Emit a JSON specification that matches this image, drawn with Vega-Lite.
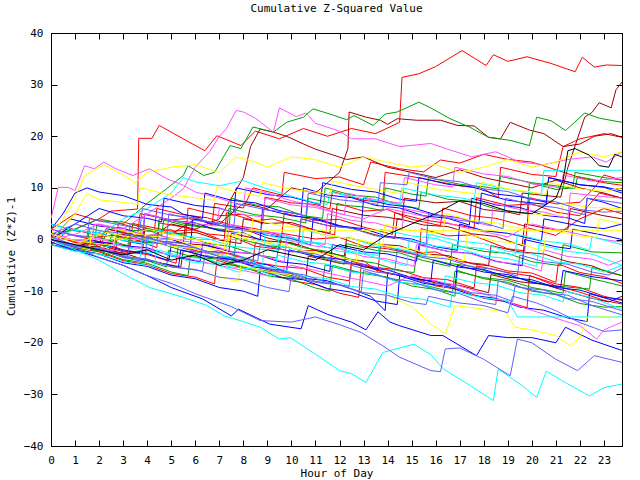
{
"$schema": "https://vega.github.io/schema/vega-lite/v6.json",
"width": 571, "height": 413,
"autosize": "none",
"padding": {"left": 51, "top": 33, "right": 18, "bottom": 34},
"background": "white",
"title": {"text": "Cumulative Z-Squared Value", "font": "DejaVu Sans Mono", "fontSize": 11, "fontWeight": "normal", "color": "black", "anchor": "middle", "offset": 13},
"config": {
  "view": {"stroke": "black", "strokeWidth": 1},
  "axis": {"labelFont": "DejaVu Sans Mono", "labelFontSize": 11, "labelColor": "black", "titleFont": "DejaVu Sans Mono", "titleFontSize": 11, "titleFontWeight": "normal", "titleColor": "black", "domainColor": "black", "tickColor": "black", "grid": false, "tickSize": -6, "labelPadding": 14}
},
"datasets": {
"d": [
{"s":"R1","h":0,"v":0.5},{"s":"R1","h":1,"v":2},{"s":"R1","h":2,"v":4},{"s":"R1","h":2.5,"v":5.5},{"s":"R1","h":3.6,"v":5.9},{"s":"R1","h":3.65,"v":19.6},{"s":"R1","h":4.2,"v":19.6},{"s":"R1","h":4.5,"v":22.1},{"s":"R1","h":5.5,"v":19.5},{"s":"R1","h":6.4,"v":17.2},{"s":"R1","h":6.9,"v":20.1},{"s":"R1","h":7.9,"v":18.2},{"s":"R1","h":8.5,"v":21},{"s":"R1","h":9.5,"v":19.5},{"s":"R1","h":10.5,"v":21.5},{"s":"R1","h":11.5,"v":20},{"s":"R1","h":12.5,"v":21.5},{"s":"R1","h":13.5,"v":20.5},{"s":"R1","h":14.5,"v":22.7},{"s":"R1","h":14.6,"v":31.4},{"s":"R1","h":15.3,"v":32.1},{"s":"R1","h":16,"v":33.5},{"s":"R1","h":17.1,"v":36.6},{"s":"R1","h":18.1,"v":33.7},{"s":"R1","h":18.4,"v":35.8},{"s":"R1","h":19,"v":34.5},{"s":"R1","h":19.8,"v":35.4},{"s":"R1","h":20.8,"v":34.1},{"s":"R1","h":21.8,"v":32.5},{"s":"R1","h":22.1,"v":35.3},{"s":"R1","h":22.6,"v":33.4},{"s":"R1","h":23.1,"v":33.8},{"s":"R1","h":23.75,"v":33.7},
{"s":"R2","h":0,"v":1},{"s":"R2","h":1,"v":-0.3},{"s":"R2","h":2,"v":-0.8},{"s":"R2","h":2.7,"v":-2.1},{"s":"R2","h":2.8,"v":3.2},{"s":"R2","h":4,"v":1.6},{"s":"R2","h":5,"v":1.9},{"s":"R2","h":5.6,"v":0.2},{"s":"R2","h":5.7,"v":6.1},{"s":"R2","h":7,"v":4.6},{"s":"R2","h":8,"v":4.9},{"s":"R2","h":8.8,"v":3},{"s":"R2","h":8.9,"v":8.2},{"s":"R2","h":10,"v":7.1},{"s":"R2","h":11,"v":6.8},{"s":"R2","h":11.6,"v":5.9},{"s":"R2","h":11.7,"v":9.3},{"s":"R2","h":13,"v":7.6},{"s":"R2","h":13.8,"v":7.1},{"s":"R2","h":13.9,"v":13},{"s":"R2","h":15,"v":12.2},{"s":"R2","h":16,"v":11.3},{"s":"R2","h":17,"v":10.4},{"s":"R2","h":18,"v":9.8},{"s":"R2","h":18.6,"v":8.1},{"s":"R2","h":18.7,"v":14},{"s":"R2","h":20,"v":12.6},{"s":"R2","h":21,"v":12.2},{"s":"R2","h":21.3,"v":18},{"s":"R2","h":22,"v":19.5},{"s":"R2","h":23,"v":20.5},{"s":"R2","h":23.75,"v":19.8},
{"s":"R3","h":0,"v":-1},{"s":"R3","h":0.6,"v":1.2},{"s":"R3","h":2,"v":-0.4},{"s":"R3","h":3.3,"v":-1.3},{"s":"R3","h":3.4,"v":3.1},{"s":"R3","h":5,"v":1.6},{"s":"R3","h":6,"v":1.9},{"s":"R3","h":7.2,"v":-0.3},{"s":"R3","h":7.3,"v":5.2},{"s":"R3","h":8.5,"v":3.6},{"s":"R3","h":9.2,"v":4},{"s":"R3","h":10.5,"v":2.3},{"s":"R3","h":11.8,"v":0.9},{"s":"R3","h":11.9,"v":7},{"s":"R3","h":13,"v":5.5},{"s":"R3","h":14,"v":5.8},{"s":"R3","h":15,"v":3.9},{"s":"R3","h":16.2,"v":2.7},{"s":"R3","h":16.3,"v":6.1},{"s":"R3","h":17.5,"v":4.6},{"s":"R3","h":18.5,"v":4.1},{"s":"R3","h":19.8,"v":2.5},{"s":"R3","h":19.9,"v":8.1},{"s":"R3","h":21,"v":6.9},{"s":"R3","h":22,"v":7.2},{"s":"R3","h":22.6,"v":10},{"s":"R3","h":23,"v":12.5},{"s":"R3","h":23.75,"v":11.5},
{"s":"R4","h":0,"v":0},{"s":"R4","h":1,"v":-1.3},{"s":"R4","h":1.8,"v":-0.9},{"s":"R4","h":2.6,"v":-2.9},{"s":"R4","h":2.7,"v":0.8},{"s":"R4","h":4,"v":-0.6},{"s":"R4","h":5,"v":-0.8},{"s":"R4","h":6.3,"v":-2.5},{"s":"R4","h":7,"v":-2.2},{"s":"R4","h":8.4,"v":-4.3},{"s":"R4","h":8.5,"v":-0.6},{"s":"R4","h":10,"v":-2.4},{"s":"R4","h":11,"v":-2.1},{"s":"R4","h":12,"v":-3.8},{"s":"R4","h":13,"v":-4.1},{"s":"R4","h":13.6,"v":-6.2},{"s":"R4","h":13.7,"v":-1.2},{"s":"R4","h":15,"v":-2.6},{"s":"R4","h":16,"v":-2.4},{"s":"R4","h":17,"v":-4.3},{"s":"R4","h":18,"v":-4.8},{"s":"R4","h":19,"v":-6.1},{"s":"R4","h":20,"v":-6.5},{"s":"R4","h":21,"v":-8.3},{"s":"R4","h":21.1,"v":-4.7},{"s":"R4","h":22,"v":-6.4},{"s":"R4","h":23,"v":-7.2},{"s":"R4","h":23.75,"v":-8.5},
{"s":"R5","h":0,"v":0},{"s":"R5","h":0.7,"v":2.3},{"s":"R5","h":2,"v":0.6},{"s":"R5","h":3,"v":0.9},{"s":"R5","h":4.4,"v":-1.6},{"s":"R5","h":4.5,"v":3.2},{"s":"R5","h":5.5,"v":2.4},{"s":"R5","h":6.5,"v":1.1},{"s":"R5","h":7.5,"v":0.6},{"s":"R5","h":8.5,"v":-1.3},{"s":"R5","h":9.5,"v":-1.9},{"s":"R5","h":9.6,"v":1.2},{"s":"R5","h":11,"v":0.1},{"s":"R5","h":12,"v":0.4},{"s":"R5","h":13,"v":-1.3},{"s":"R5","h":14,"v":-1.8},{"s":"R5","h":15.3,"v":-3.1},{"s":"R5","h":15.4,"v":2.1},{"s":"R5","h":16.5,"v":0.7},{"s":"R5","h":17.5,"v":0.9},{"s":"R5","h":19,"v":-1.8},{"s":"R5","h":19.7,"v":-2.2},{"s":"R5","h":19.8,"v":2.3},{"s":"R5","h":21,"v":0.8},{"s":"R5","h":22,"v":4},{"s":"R5","h":23,"v":6},{"s":"R5","h":23.75,"v":5},
{"s":"R6","h":0,"v":1},{"s":"R6","h":1,"v":-0.6},{"s":"R6","h":2,"v":-0.9},{"s":"R6","h":3,"v":-2.4},{"s":"R6","h":4,"v":-2.9},{"s":"R6","h":5.2,"v":-4.6},{"s":"R6","h":5.3,"v":-1.1},{"s":"R6","h":6.5,"v":-2.3},{"s":"R6","h":7.5,"v":-2.7},{"s":"R6","h":8.5,"v":-4.4},{"s":"R6","h":9.5,"v":-5.2},{"s":"R6","h":10.5,"v":-5.6},{"s":"R6","h":11.5,"v":-7.3},{"s":"R6","h":12.4,"v":-8},{"s":"R6","h":12.5,"v":-4.2},{"s":"R6","h":13.5,"v":-5.4},{"s":"R6","h":14.5,"v":-5.9},{"s":"R6","h":15.5,"v":-7.4},{"s":"R6","h":16.5,"v":-7.8},{"s":"R6","h":17.6,"v":-9.4},{"s":"R6","h":17.7,"v":-5.1},{"s":"R6","h":19,"v":-6.4},{"s":"R6","h":20,"v":-7.1},{"s":"R6","h":21,"v":-9},{"s":"R6","h":22,"v":-10.2},{"s":"R6","h":23,"v":-11.8},{"s":"R6","h":23.75,"v":-12.5},
{"s":"R7","h":0,"v":2},{"s":"R7","h":1,"v":5},{"s":"R7","h":2,"v":3.6},{"s":"R7","h":3,"v":3.4},{"s":"R7","h":4.3,"v":1.7},{"s":"R7","h":4.4,"v":6},{"s":"R7","h":5.5,"v":4.8},{"s":"R7","h":6.5,"v":4.2},{"s":"R7","h":7.5,"v":2.8},{"s":"R7","h":8.5,"v":2.1},{"s":"R7","h":9.6,"v":0.8},{"s":"R7","h":9.7,"v":5.1},{"s":"R7","h":11,"v":3.7},{"s":"R7","h":12,"v":3.9},{"s":"R7","h":13,"v":2.4},{"s":"R7","h":14.2,"v":1},{"s":"R7","h":14.3,"v":5.2},{"s":"R7","h":15.5,"v":3.8},{"s":"R7","h":16.5,"v":3.1},{"s":"R7","h":17.6,"v":2.2},{"s":"R7","h":17.7,"v":8.1},{"s":"R7","h":19,"v":6.6},{"s":"R7","h":20,"v":6.9},{"s":"R7","h":21,"v":5.3},{"s":"R7","h":22,"v":4.6},{"s":"R7","h":22.8,"v":9},{"s":"R7","h":23.75,"v":8},
{"s":"R8","h":0,"v":0},{"s":"R8","h":1,"v":-1.3},{"s":"R8","h":2,"v":-1.6},{"s":"R8","h":2.4,"v":2},{"s":"R8","h":3.6,"v":0.8},{"s":"R8","h":3.7,"v":5},{"s":"R8","h":5,"v":3.8},{"s":"R8","h":6,"v":4.2},{"s":"R8","h":6.7,"v":2.8},{"s":"R8","h":6.8,"v":7},{"s":"R8","h":8,"v":6.1},{"s":"R8","h":8.4,"v":10},{"s":"R8","h":9.6,"v":8.6},{"s":"R8","h":9.7,"v":13},{"s":"R8","h":11,"v":11.8},{"s":"R8","h":12,"v":12.1},{"s":"R8","h":13,"v":10.6},{"s":"R8","h":13.3,"v":15},{"s":"R8","h":14.5,"v":13.7},{"s":"R8","h":15.5,"v":13.1},{"s":"R8","h":16.2,"v":15.4},{"s":"R8","h":17,"v":14.8},{"s":"R8","h":18,"v":16.5},{"s":"R8","h":19,"v":15.5},{"s":"R8","h":20,"v":15},{"s":"R8","h":21,"v":13.5},{"s":"R8","h":22,"v":12},{"s":"R8","h":23,"v":11},{"s":"R8","h":23.75,"v":10.5},
{"s":"R9","h":0,"v":0},{"s":"R9","h":1,"v":-1.6},{"s":"R9","h":2,"v":-2.4},{"s":"R9","h":3,"v":-4.1},{"s":"R9","h":4,"v":-4.9},{"s":"R9","h":5,"v":-6.6},{"s":"R9","h":6,"v":-7.3},{"s":"R9","h":6.8,"v":-8.6},{"s":"R9","h":6.9,"v":-4},{"s":"R9","h":8,"v":-5.6},{"s":"R9","h":9,"v":-6.3},{"s":"R9","h":10,"v":-8},{"s":"R9","h":11,"v":-8.7},{"s":"R9","h":12,"v":-10.4},{"s":"R9","h":12.8,"v":-11.2},{"s":"R9","h":12.9,"v":-5},{"s":"R9","h":14,"v":-6.6},{"s":"R9","h":15,"v":-7.3},{"s":"R9","h":16,"v":-9},{"s":"R9","h":17,"v":-9.7},{"s":"R9","h":18,"v":-11.4},{"s":"R9","h":19,"v":-12.1},{"s":"R9","h":19.8,"v":-13.2},{"s":"R9","h":19.9,"v":-7},{"s":"R9","h":21,"v":-8.6},{"s":"R9","h":22,"v":-9.3},{"s":"R9","h":23,"v":-11},{"s":"R9","h":23.75,"v":-11.8},
{"s":"DR1","h":0,"v":0},{"s":"DR1","h":1,"v":-1.2},{"s":"DR1","h":2,"v":-0.5},{"s":"DR1","h":3,"v":-2},{"s":"DR1","h":3.8,"v":-2.6},{"s":"DR1","h":3.9,"v":2},{"s":"DR1","h":5,"v":1.1},{"s":"DR1","h":6,"v":1.4},{"s":"DR1","h":7,"v":-0.1},{"s":"DR1","h":7.9,"v":-0.8},{"s":"DR1","h":8,"v":4},{"s":"DR1","h":9,"v":3.1},{"s":"DR1","h":10,"v":3.3},{"s":"DR1","h":11,"v":1.8},{"s":"DR1","h":11.6,"v":1.2},{"s":"DR1","h":11.7,"v":6},{"s":"DR1","h":13,"v":4.7},{"s":"DR1","h":14,"v":4.3},{"s":"DR1","h":14.6,"v":3.8},{"s":"DR1","h":14.7,"v":8},{"s":"DR1","h":16,"v":7.1},{"s":"DR1","h":17,"v":7.4},{"s":"DR1","h":18,"v":5.8},{"s":"DR1","h":19,"v":5.3},{"s":"DR1","h":19.5,"v":4.8},{"s":"DR1","h":19.6,"v":9},{"s":"DR1","h":21.2,"v":8.2},{"s":"DR1","h":21.5,"v":14},{"s":"DR1","h":22.2,"v":23.7},{"s":"DR1","h":22.5,"v":24.6},{"s":"DR1","h":22.8,"v":26.5},{"s":"DR1","h":23.3,"v":25.5},{"s":"DR1","h":23.5,"v":29},{"s":"DR1","h":23.75,"v":30.5},
{"s":"DR2","h":0,"v":0},{"s":"DR2","h":1,"v":-1},{"s":"DR2","h":2,"v":1},{"s":"DR2","h":3,"v":0},{"s":"DR2","h":4,"v":2},{"s":"DR2","h":5,"v":1},{"s":"DR2","h":6,"v":4},{"s":"DR2","h":7,"v":3},{"s":"DR2","h":8,"v":7},{"s":"DR2","h":9,"v":6},{"s":"DR2","h":10,"v":10},{"s":"DR2","h":11,"v":9},{"s":"DR2","h":12,"v":13},{"s":"DR2","h":12.35,"v":17.6},{"s":"DR2","h":12.4,"v":24.7},{"s":"DR2","h":13.1,"v":23.7},{"s":"DR2","h":13.7,"v":23.1},{"s":"DR2","h":14,"v":22.3},{"s":"DR2","h":14.4,"v":23.4},{"s":"DR2","h":15.2,"v":23.1},{"s":"DR2","h":16.2,"v":23.1},{"s":"DR2","h":16.9,"v":22.1},{"s":"DR2","h":17.6,"v":22},{"s":"DR2","h":18.2,"v":19.8},{"s":"DR2","h":18.7,"v":19.5},{"s":"DR2","h":19.1,"v":22.7},{"s":"DR2","h":19.9,"v":21.2},{"s":"DR2","h":20.5,"v":20.5},{"s":"DR2","h":21.3,"v":18},{"s":"DR2","h":22,"v":18.5},{"s":"DR2","h":22.6,"v":20},{"s":"DR2","h":23.3,"v":20.5},{"s":"DR2","h":23.75,"v":19.8},
{"s":"DR3","h":0,"v":0},{"s":"DR3","h":1,"v":-1},{"s":"DR3","h":2,"v":-2},{"s":"DR3","h":3,"v":1},{"s":"DR3","h":4,"v":0},{"s":"DR3","h":5,"v":3},{"s":"DR3","h":6,"v":2},{"s":"DR3","h":7,"v":4},{"s":"DR3","h":8,"v":12},{"s":"DR3","h":8.3,"v":18},{"s":"DR3","h":8.7,"v":21.4},{"s":"DR3","h":9.25,"v":20.8},{"s":"DR3","h":9.8,"v":20},{"s":"DR3","h":10.5,"v":18.5},{"s":"DR3","h":11,"v":17.5},{"s":"DR3","h":12.3,"v":15.5},{"s":"DR3","h":13,"v":16},{"s":"DR3","h":14,"v":14},{"s":"DR3","h":15,"v":13},{"s":"DR3","h":16,"v":12},{"s":"DR3","h":17,"v":13.5},{"s":"DR3","h":18,"v":12},{"s":"DR3","h":19,"v":11},{"s":"DR3","h":20,"v":10},{"s":"DR3","h":21,"v":11.5},{"s":"DR3","h":22,"v":10},{"s":"DR3","h":23,"v":9},{"s":"DR3","h":23.75,"v":8},
{"s":"DR4","h":0,"v":1},{"s":"DR4","h":1,"v":-0.4},{"s":"DR4","h":2,"v":-0.7},{"s":"DR4","h":2.3,"v":2.1},{"s":"DR4","h":3.5,"v":0.7},{"s":"DR4","h":4.5,"v":0.9},{"s":"DR4","h":5.5,"v":-0.8},{"s":"DR4","h":6.5,"v":-1.1},{"s":"DR4","h":7.4,"v":-2.3},{"s":"DR4","h":7.5,"v":1.2},{"s":"DR4","h":9,"v":-0.3},{"s":"DR4","h":10,"v":-0.6},{"s":"DR4","h":11,"v":-2.1},{"s":"DR4","h":12.2,"v":-3.2},{"s":"DR4","h":12.3,"v":0.4},{"s":"DR4","h":13.5,"v":-0.9},{"s":"DR4","h":14.5,"v":-1.2},{"s":"DR4","h":15.5,"v":-2.8},{"s":"DR4","h":16.5,"v":-3.1},{"s":"DR4","h":17.5,"v":-4.7},{"s":"DR4","h":18.2,"v":-5.1},{"s":"DR4","h":18.3,"v":-1.2},{"s":"DR4","h":19.5,"v":-2.4},{"s":"DR4","h":20.5,"v":-2.8},{"s":"DR4","h":21.5,"v":-4.3},{"s":"DR4","h":22.5,"v":-5.1},{"s":"DR4","h":23.2,"v":-6.4},{"s":"DR4","h":23.75,"v":-7},
{"s":"DR5","h":0,"v":0},{"s":"DR5","h":1,"v":-1.2},{"s":"DR5","h":2,"v":-1.4},{"s":"DR5","h":3.2,"v":-3},{"s":"DR5","h":3.3,"v":1.1},{"s":"DR5","h":4.5,"v":-0.3},{"s":"DR5","h":5.5,"v":-0.7},{"s":"DR5","h":5.6,"v":3.2},{"s":"DR5","h":7,"v":1.8},{"s":"DR5","h":8,"v":2.1},{"s":"DR5","h":9,"v":0.3},{"s":"DR5","h":10.3,"v":-1.1},{"s":"DR5","h":10.4,"v":4},{"s":"DR5","h":11.5,"v":2.7},{"s":"DR5","h":12.5,"v":2.2},{"s":"DR5","h":13.5,"v":0.9},{"s":"DR5","h":14.3,"v":0.2},{"s":"DR5","h":14.4,"v":4.1},{"s":"DR5","h":15.5,"v":2.8},{"s":"DR5","h":16.5,"v":2.5},{"s":"DR5","h":17.5,"v":1.1},{"s":"DR5","h":18.5,"v":0.6},{"s":"DR5","h":19.6,"v":-1.2},{"s":"DR5","h":19.7,"v":3},{"s":"DR5","h":21,"v":1.8},{"s":"DR5","h":21.5,"v":2},{"s":"DR5","h":21.6,"v":6},{"s":"DR5","h":23,"v":4.6},{"s":"DR5","h":23.75,"v":4},
{"s":"DR6","h":0,"v":0},{"s":"DR6","h":1,"v":-1.4},{"s":"DR6","h":2,"v":-2.2},{"s":"DR6","h":3,"v":-2.6},{"s":"DR6","h":4,"v":-4.1},{"s":"DR6","h":5.4,"v":-5.3},{"s":"DR6","h":5.5,"v":-2.1},{"s":"DR6","h":6.5,"v":-3.4},{"s":"DR6","h":7.5,"v":-3.9},{"s":"DR6","h":8.5,"v":-5.2},{"s":"DR6","h":9.5,"v":-6.4},{"s":"DR6","h":10.6,"v":-7.6},{"s":"DR6","h":10.7,"v":-3.2},{"s":"DR6","h":12,"v":-4.6},{"s":"DR6","h":13,"v":-4.9},{"s":"DR6","h":14,"v":-6.5},{"s":"DR6","h":15,"v":-7.3},{"s":"DR6","h":16,"v":-8.4},{"s":"DR6","h":17,"v":-8.9},{"s":"DR6","h":18.2,"v":-10.3},{"s":"DR6","h":18.3,"v":-6.8},{"s":"DR6","h":19.5,"v":-8.2},{"s":"DR6","h":20.5,"v":-8.7},{"s":"DR6","h":21.5,"v":-10.1},{"s":"DR6","h":22.5,"v":-11.4},{"s":"DR6","h":23.2,"v":-12.1},{"s":"DR6","h":23.75,"v":-11},
{"s":"G1","h":0,"v":1},{"s":"G1","h":1,"v":2},{"s":"G1","h":2,"v":4},{"s":"G1","h":3,"v":3},{"s":"G1","h":4,"v":7},{"s":"G1","h":4.8,"v":9.8},{"s":"G1","h":5.5,"v":12.4},{"s":"G1","h":5.7,"v":14.3},{"s":"G1","h":6.35,"v":12.4},{"s":"G1","h":6.8,"v":13},{"s":"G1","h":7.45,"v":18.2},{"s":"G1","h":7.9,"v":17.6},{"s":"G1","h":8.4,"v":21.8},{"s":"G1","h":9.25,"v":20.8},{"s":"G1","h":9.8,"v":22.7},{"s":"G1","h":10.5,"v":23.7},{"s":"G1","h":10.9,"v":25.3},{"s":"G1","h":11.6,"v":24.3},{"s":"G1","h":12.3,"v":23.2},{"s":"G1","h":12.6,"v":24},{"s":"G1","h":13.4,"v":22.1},{"s":"G1","h":13.9,"v":24.3},{"s":"G1","h":14.4,"v":24.7},{"s":"G1","h":15.3,"v":26.6},{"s":"G1","h":15.75,"v":25.6},{"s":"G1","h":16.6,"v":23.4},{"s":"G1","h":17.4,"v":21.8},{"s":"G1","h":18.2,"v":19.8},{"s":"G1","h":19.1,"v":19.2},{"s":"G1","h":19.9,"v":18.2},{"s":"G1","h":20.2,"v":23.7},{"s":"G1","h":20.8,"v":23},{"s":"G1","h":21.4,"v":21.1},{"s":"G1","h":22.2,"v":24.5},{"s":"G1","h":22.8,"v":23.5},{"s":"G1","h":23.75,"v":22.7},
{"s":"G2","h":0,"v":0},{"s":"G2","h":1,"v":-1.3},{"s":"G2","h":1.8,"v":-2.1},{"s":"G2","h":1.9,"v":3},{"s":"G2","h":3,"v":1.6},{"s":"G2","h":4,"v":1.9},{"s":"G2","h":4.6,"v":0.8},{"s":"G2","h":4.7,"v":4},{"s":"G2","h":6,"v":2.6},{"s":"G2","h":7.4,"v":1.8},{"s":"G2","h":7.5,"v":8},{"s":"G2","h":8.5,"v":6.7},{"s":"G2","h":9.5,"v":6.3},{"s":"G2","h":10.5,"v":4.6},{"s":"G2","h":11.3,"v":4.1},{"s":"G2","h":11.4,"v":10},{"s":"G2","h":12.5,"v":8.6},{"s":"G2","h":13.5,"v":8.2},{"s":"G2","h":14.5,"v":6.7},{"s":"G2","h":15.3,"v":6},{"s":"G2","h":15.4,"v":9.2},{"s":"G2","h":16.5,"v":7.8},{"s":"G2","h":17.5,"v":7.4},{"s":"G2","h":18.5,"v":5.9},{"s":"G2","h":19.8,"v":5},{"s":"G2","h":19.9,"v":11},{"s":"G2","h":21,"v":9.7},{"s":"G2","h":21.7,"v":10},{"s":"G2","h":21.8,"v":13},{"s":"G2","h":23,"v":12},{"s":"G2","h":23.75,"v":11.5},
{"s":"G3","h":0,"v":-1},{"s":"G3","h":1,"v":-1.8},{"s":"G3","h":2.4,"v":-3.2},{"s":"G3","h":2.5,"v":1},{"s":"G3","h":3.5,"v":-0.4},{"s":"G3","h":4.5,"v":-0.7},{"s":"G3","h":5.5,"v":-2.2},{"s":"G3","h":6.5,"v":-2.6},{"s":"G3","h":7.6,"v":-4.1},{"s":"G3","h":7.7,"v":0.2},{"s":"G3","h":9,"v":-1.2},{"s":"G3","h":10,"v":-1.6},{"s":"G3","h":11,"v":-3.2},{"s":"G3","h":12.2,"v":-4.8},{"s":"G3","h":12.3,"v":-0.8},{"s":"G3","h":13.5,"v":-2.1},{"s":"G3","h":14.5,"v":-2.6},{"s":"G3","h":15.5,"v":-4.1},{"s":"G3","h":16.6,"v":-5.2},{"s":"G3","h":16.7,"v":-1},{"s":"G3","h":18,"v":-2.3},{"s":"G3","h":19,"v":-2.7},{"s":"G3","h":20,"v":-4.3},{"s":"G3","h":21.2,"v":-5.1},{"s":"G3","h":21.3,"v":-1},{"s":"G3","h":22.5,"v":-2.4},{"s":"G3","h":23.75,"v":-2.6},
{"s":"G4","h":0,"v":2},{"s":"G4","h":1,"v":0.8},{"s":"G4","h":2,"v":0.4},{"s":"G4","h":3.2,"v":-1.2},{"s":"G4","h":3.3,"v":3},{"s":"G4","h":4.5,"v":1.6},{"s":"G4","h":5.5,"v":0.9},{"s":"G4","h":6.5,"v":-0.7},{"s":"G4","h":7.5,"v":-1.4},{"s":"G4","h":8.5,"v":-2.9},{"s":"G4","h":9.4,"v":-3.6},{"s":"G4","h":9.5,"v":-0.2},{"s":"G4","h":10.5,"v":-1.6},{"s":"G4","h":11.5,"v":-2.3},{"s":"G4","h":12.5,"v":-3.9},{"s":"G4","h":13.5,"v":-4.6},{"s":"G4","h":14.5,"v":-6.1},{"s":"G4","h":15.1,"v":-6.4},{"s":"G4","h":15.2,"v":-3.2},{"s":"G4","h":16.5,"v":-4.6},{"s":"G4","h":17.5,"v":-5.2},{"s":"G4","h":18.5,"v":-6.8},{"s":"G4","h":19.5,"v":-7.5},{"s":"G4","h":20.5,"v":-8.8},{"s":"G4","h":22.4,"v":-9.6},{"s":"G4","h":22.5,"v":-5.4},{"s":"G4","h":23.2,"v":-6.2},{"s":"G4","h":23.75,"v":-7},
{"s":"G5","h":0,"v":0},{"s":"G5","h":1,"v":-1.4},{"s":"G5","h":2,"v":-1.9},{"s":"G5","h":3,"v":-3.4},{"s":"G5","h":4,"v":-4.1},{"s":"G5","h":4.8,"v":-5.3},{"s":"G5","h":4.9,"v":-2.1},{"s":"G5","h":6,"v":-3.5},{"s":"G5","h":7,"v":-3.8},{"s":"G5","h":8,"v":-5.4},{"s":"G5","h":9,"v":-6.1},{"s":"G5","h":10,"v":-7.3},{"s":"G5","h":11.3,"v":-8.4},{"s":"G5","h":11.4,"v":-4.9},{"s":"G5","h":12.5,"v":-6.2},{"s":"G5","h":13.5,"v":-6.7},{"s":"G5","h":14.5,"v":-8.3},{"s":"G5","h":15.5,"v":-8.8},{"s":"G5","h":16.7,"v":-10.2},{"s":"G5","h":16.8,"v":-6.1},{"s":"G5","h":18,"v":-7.4},{"s":"G5","h":19,"v":-7.9},{"s":"G5","h":20,"v":-9.3},{"s":"G5","h":21.3,"v":-10.4},{"s":"G5","h":21.4,"v":-6.2},{"s":"G5","h":22.5,"v":-7.6},{"s":"G5","h":23.75,"v":-9},
{"s":"G6","h":0,"v":0},{"s":"G6","h":1,"v":-1.2},{"s":"G6","h":1.5,"v":-1.4},{"s":"G6","h":1.6,"v":2.1},{"s":"G6","h":3,"v":0.7},{"s":"G6","h":4,"v":0.3},{"s":"G6","h":4.4,"v":-0.2},{"s":"G6","h":4.5,"v":4},{"s":"G6","h":5.5,"v":2.8},{"s":"G6","h":6.5,"v":2.4},{"s":"G6","h":7.3,"v":1.5},{"s":"G6","h":7.4,"v":6},{"s":"G6","h":8.5,"v":4.8},{"s":"G6","h":9.5,"v":4.3},{"s":"G6","h":10.6,"v":3.2},{"s":"G6","h":10.7,"v":8},{"s":"G6","h":12,"v":6.7},{"s":"G6","h":13,"v":6.3},{"s":"G6","h":13.8,"v":5.6},{"s":"G6","h":13.9,"v":10},{"s":"G6","h":15,"v":8.8},{"s":"G6","h":15.6,"v":8.4},{"s":"G6","h":15.7,"v":12},{"s":"G6","h":17,"v":10.7},{"s":"G6","h":18,"v":10.2},{"s":"G6","h":18.6,"v":9.8},{"s":"G6","h":18.7,"v":12.2},{"s":"G6","h":20,"v":11},{"s":"G6","h":21,"v":10.4},{"s":"G6","h":21.8,"v":9.9},{"s":"G6","h":21.9,"v":12.2},{"s":"G6","h":23,"v":11.2},{"s":"G6","h":23.75,"v":11},
{"s":"G7","h":0,"v":0},{"s":"G7","h":1,"v":-1.5},{"s":"G7","h":2,"v":-2.2},{"s":"G7","h":3,"v":-3.9},{"s":"G7","h":4,"v":-4.6},{"s":"G7","h":5,"v":-6.3},{"s":"G7","h":5.7,"v":-7},{"s":"G7","h":5.8,"v":-3},{"s":"G7","h":7,"v":-4.6},{"s":"G7","h":8,"v":-5.3},{"s":"G7","h":9,"v":-7},{"s":"G7","h":10,"v":-7.7},{"s":"G7","h":11,"v":-9.4},{"s":"G7","h":11.6,"v":-10},{"s":"G7","h":11.7,"v":-5},{"s":"G7","h":13,"v":-6.6},{"s":"G7","h":14,"v":-7.3},{"s":"G7","h":15,"v":-9},{"s":"G7","h":16,"v":-9.7},{"s":"G7","h":16.8,"v":-11},{"s":"G7","h":16.9,"v":-6},{"s":"G7","h":18,"v":-7.6},{"s":"G7","h":19,"v":-8.3},{"s":"G7","h":20,"v":-10},{"s":"G7","h":21,"v":-10.7},{"s":"G7","h":22,"v":-12.4},{"s":"G7","h":23,"v":-13.1},{"s":"G7","h":23.75,"v":-13},
{"s":"B1","h":0,"v":0},{"s":"B1","h":1,"v":-2},{"s":"B1","h":2,"v":-3.5},{"s":"B1","h":3,"v":-5},{"s":"B1","h":4,"v":-7},{"s":"B1","h":5,"v":-9.3},{"s":"B1","h":6.3,"v":-11.5},{"s":"B1","h":7.5,"v":-14.8},{"s":"B1","h":7.8,"v":-13.5},{"s":"B1","h":9.1,"v":-16.4},{"s":"B1","h":10.4,"v":-17.3},{"s":"B1","h":10.7,"v":-12.8},{"s":"B1","h":11.5,"v":-14.5},{"s":"B1","h":12.5,"v":-16},{"s":"B1","h":13.1,"v":-17.5},{"s":"B1","h":13.6,"v":-14},{"s":"B1","h":14.1,"v":-16},{"s":"B1","h":14.5,"v":-16.7},{"s":"B1","h":15.8,"v":-18.6},{"s":"B1","h":16.3,"v":-18.6},{"s":"B1","h":17.7,"v":-22.5},{"s":"B1","h":18.2,"v":-18.6},{"s":"B1","h":19,"v":-19},{"s":"B1","h":20,"v":-19},{"s":"B1","h":21,"v":-20},{"s":"B1","h":21.4,"v":-17},{"s":"B1","h":22.5,"v":-19.5},{"s":"B1","h":23.75,"v":-21.5},
{"s":"B2","h":0,"v":2},{"s":"B2","h":0.5,"v":5},{"s":"B2","h":1,"v":9},{"s":"B2","h":1.5,"v":10},{"s":"B2","h":2,"v":9.2},{"s":"B2","h":3,"v":8.5},{"s":"B2","h":4,"v":6.8},{"s":"B2","h":5,"v":6.3},{"s":"B2","h":5.5,"v":4.9},{"s":"B2","h":6.3,"v":4.1},{"s":"B2","h":6.4,"v":9},{"s":"B2","h":7.5,"v":7.6},{"s":"B2","h":8.5,"v":7.1},{"s":"B2","h":9.5,"v":5.6},{"s":"B2","h":10.4,"v":4.8},{"s":"B2","h":10.5,"v":10},{"s":"B2","h":11.5,"v":8.6},{"s":"B2","h":12.5,"v":8.1},{"s":"B2","h":13.5,"v":6.6},{"s":"B2","h":14.5,"v":6.1},{"s":"B2","h":15.5,"v":4.6},{"s":"B2","h":16.5,"v":4.1},{"s":"B2","h":17.4,"v":2.8},{"s":"B2","h":17.5,"v":8},{"s":"B2","h":18.5,"v":6.7},{"s":"B2","h":19.5,"v":6.2},{"s":"B2","h":20.5,"v":4.7},{"s":"B2","h":21.5,"v":4.2},{"s":"B2","h":22.2,"v":3.1},{"s":"B2","h":22.3,"v":8},{"s":"B2","h":23,"v":7.2},{"s":"B2","h":23.75,"v":6},
{"s":"B3","h":0,"v":3},{"s":"B3","h":1,"v":1.7},{"s":"B3","h":2,"v":1.3},{"s":"B3","h":3,"v":-0.2},{"s":"B3","h":3.8,"v":-0.9},{"s":"B3","h":3.9,"v":5},{"s":"B3","h":5,"v":3.7},{"s":"B3","h":6,"v":3.2},{"s":"B3","h":7,"v":1.7},{"s":"B3","h":8,"v":1.3},{"s":"B3","h":8.7,"v":-0.1},{"s":"B3","h":8.8,"v":6},{"s":"B3","h":10,"v":4.6},{"s":"B3","h":11,"v":4.1},{"s":"B3","h":12,"v":2.7},{"s":"B3","h":12.9,"v":1.9},{"s":"B3","h":13,"v":8},{"s":"B3","h":14,"v":6.8},{"s":"B3","h":15,"v":6.2},{"s":"B3","h":16,"v":4.8},{"s":"B3","h":17,"v":4.2},{"s":"B3","h":17.8,"v":3},{"s":"B3","h":17.9,"v":9},{"s":"B3","h":19,"v":7.6},{"s":"B3","h":20.6,"v":6.8},{"s":"B3","h":20.7,"v":12},{"s":"B3","h":22,"v":10.6},{"s":"B3","h":23,"v":10.2},{"s":"B3","h":23.75,"v":9.4},
{"s":"B4","h":0,"v":1},{"s":"B4","h":1,"v":-0.2},{"s":"B4","h":2,"v":-0.6},{"s":"B4","h":3,"v":-2.2},{"s":"B4","h":4,"v":-2.7},{"s":"B4","h":4.9,"v":-4.1},{"s":"B4","h":5,"v":-1},{"s":"B4","h":6,"v":-2.3},{"s":"B4","h":7,"v":-2.8},{"s":"B4","h":8,"v":-4.3},{"s":"B4","h":9,"v":-4.9},{"s":"B4","h":9.8,"v":-6.2},{"s":"B4","h":9.9,"v":-2},{"s":"B4","h":11,"v":-3.3},{"s":"B4","h":12,"v":-3.8},{"s":"B4","h":13,"v":-5.3},{"s":"B4","h":14,"v":-5.9},{"s":"B4","h":15,"v":-7.4},{"s":"B4","h":15.8,"v":-8.1},{"s":"B4","h":15.9,"v":-4},{"s":"B4","h":17,"v":-5.4},{"s":"B4","h":18,"v":-5.8},{"s":"B4","h":19,"v":-7.3},{"s":"B4","h":20,"v":-7.8},{"s":"B4","h":21,"v":-9.3},{"s":"B4","h":22,"v":-9.8},{"s":"B4","h":23,"v":-11.2},{"s":"B4","h":23.75,"v":-11.6},
{"s":"B5","h":0,"v":0},{"s":"B5","h":0.8,"v":4},{"s":"B5","h":2,"v":2.6},{"s":"B5","h":3,"v":2.2},{"s":"B5","h":4,"v":0.6},{"s":"B5","h":5,"v":0.1},{"s":"B5","h":5.8,"v":-1.2},{"s":"B5","h":5.9,"v":4},{"s":"B5","h":7,"v":2.7},{"s":"B5","h":8,"v":2.2},{"s":"B5","h":9,"v":0.8},{"s":"B5","h":10,"v":0.2},{"s":"B5","h":10.8,"v":-1.1},{"s":"B5","h":10.9,"v":4},{"s":"B5","h":12,"v":2.6},{"s":"B5","h":13,"v":2.1},{"s":"B5","h":14,"v":0.6},{"s":"B5","h":15,"v":0.1},{"s":"B5","h":16,"v":-1.4},{"s":"B5","h":16.9,"v":-2.1},{"s":"B5","h":17,"v":3},{"s":"B5","h":18,"v":1.7},{"s":"B5","h":19,"v":1.2},{"s":"B5","h":20.4,"v":-0.3},{"s":"B5","h":20.5,"v":4},{"s":"B5","h":22,"v":2.6},{"s":"B5","h":23,"v":2.1},{"s":"B5","h":23.75,"v":3},
{"s":"B6","h":0,"v":-1},{"s":"B6","h":1,"v":-2.2},{"s":"B6","h":1.6,"v":-0.1},{"s":"B6","h":3,"v":-1.2},{"s":"B6","h":4,"v":-1.6},{"s":"B6","h":5,"v":-3.2},{"s":"B6","h":6.2,"v":-4.3},{"s":"B6","h":6.3,"v":-1},{"s":"B6","h":7.5,"v":-2.4},{"s":"B6","h":8.5,"v":-2.8},{"s":"B6","h":9.5,"v":-4.3},{"s":"B6","h":10.5,"v":-4.8},{"s":"B6","h":11.6,"v":-6.2},{"s":"B6","h":11.7,"v":-1},{"s":"B6","h":13,"v":-2.4},{"s":"B6","h":14,"v":-2.8},{"s":"B6","h":15.2,"v":-4.2},{"s":"B6","h":15.3,"v":-1},{"s":"B6","h":16.5,"v":-2.3},{"s":"B6","h":17.5,"v":-2.7},{"s":"B6","h":18.5,"v":-4.2},{"s":"B6","h":19.6,"v":-5.1},{"s":"B6","h":19.7,"v":0},{"s":"B6","h":21,"v":-1.4},{"s":"B6","h":21.6,"v":-1.8},{"s":"B6","h":21.7,"v":2},{"s":"B6","h":23,"v":0.8},{"s":"B6","h":23.75,"v":0},
{"s":"B7","h":0,"v":0},{"s":"B7","h":1,"v":-1.3},{"s":"B7","h":2,"v":-1.8},{"s":"B7","h":3,"v":-3.3},{"s":"B7","h":4,"v":-3.9},{"s":"B7","h":5.3,"v":-5.4},{"s":"B7","h":5.4,"v":-2},{"s":"B7","h":6.5,"v":-3.3},{"s":"B7","h":7.5,"v":-3.8},{"s":"B7","h":8.5,"v":-5.4},{"s":"B7","h":9.5,"v":-5.9},{"s":"B7","h":10.5,"v":-7.5},{"s":"B7","h":11.5,"v":-8},{"s":"B7","h":12.5,"v":-9.6},{"s":"B7","h":13.3,"v":-11},{"s":"B7","h":13.9,"v":-13.8},{"s":"B7","h":14,"v":-6.4},{"s":"B7","h":15,"v":-7.6},{"s":"B7","h":16,"v":-8.1},{"s":"B7","h":16.8,"v":-9.3},{"s":"B7","h":16.9,"v":-5},{"s":"B7","h":18,"v":-6.3},{"s":"B7","h":19,"v":-6.8},{"s":"B7","h":20,"v":-8.3},{"s":"B7","h":21.2,"v":-9.2},{"s":"B7","h":21.3,"v":-6},{"s":"B7","h":22.5,"v":-7.2},{"s":"B7","h":23.75,"v":-8},
{"s":"B8","h":0,"v":0},{"s":"B8","h":1,"v":3},{"s":"B8","h":2,"v":6},{"s":"B8","h":3,"v":4.6},{"s":"B8","h":4,"v":4.1},{"s":"B8","h":4.6,"v":3.4},{"s":"B8","h":4.7,"v":8},{"s":"B8","h":6,"v":6.6},{"s":"B8","h":7,"v":6.1},{"s":"B8","h":7.6,"v":5.2},{"s":"B8","h":7.7,"v":10},{"s":"B8","h":9,"v":8.7},{"s":"B8","h":10,"v":8.2},{"s":"B8","h":11.2,"v":6.8},{"s":"B8","h":11.3,"v":11},{"s":"B8","h":12.5,"v":9.7},{"s":"B8","h":13.5,"v":9.2},{"s":"B8","h":14.5,"v":7.8},{"s":"B8","h":15.2,"v":7.4},{"s":"B8","h":15.3,"v":12},{"s":"B8","h":16.5,"v":10.7},{"s":"B8","h":17.5,"v":10.2},{"s":"B8","h":18.5,"v":8.8},{"s":"B8","h":19.5,"v":8.3},{"s":"B8","h":20.6,"v":7.2},{"s":"B8","h":20.7,"v":12},{"s":"B8","h":22,"v":10.6},{"s":"B8","h":23,"v":10.1},{"s":"B8","h":23.75,"v":9},
{"s":"B9","h":0,"v":-0.5},{"s":"B9","h":1,"v":-2.1},{"s":"B9","h":2,"v":-2.8},{"s":"B9","h":3,"v":-4.5},{"s":"B9","h":4,"v":-5.2},{"s":"B9","h":5,"v":-6.9},{"s":"B9","h":6,"v":-7.6},{"s":"B9","h":7,"v":-9.3},{"s":"B9","h":8,"v":-10},{"s":"B9","h":8.6,"v":-11},{"s":"B9","h":8.7,"v":-6},{"s":"B9","h":9.5,"v":-7.3},{"s":"B9","h":10.5,"v":-7.8},{"s":"B9","h":11.5,"v":-9.5},{"s":"B9","h":12.5,"v":-10.2},{"s":"B9","h":13.5,"v":-11.9},{"s":"B9","h":14.4,"v":-12.6},{"s":"B9","h":14.5,"v":-7},{"s":"B9","h":15.5,"v":-8.5},{"s":"B9","h":16.5,"v":-9.1},{"s":"B9","h":17.5,"v":-10.8},{"s":"B9","h":18.5,"v":-11.4},{"s":"B9","h":19.5,"v":-13.1},{"s":"B9","h":20.5,"v":-13.7},{"s":"B9","h":21.5,"v":-15.2},{"s":"B9","h":22.3,"v":-15.9},{"s":"B9","h":22.4,"v":-10.5},{"s":"B9","h":23.75,"v":-12.3},
{"s":"M1","h":0,"v":4},{"s":"M1","h":0.3,"v":10.1},{"s":"M1","h":0.7,"v":10.1},{"s":"M1","h":1,"v":9.5},{"s":"M1","h":1.4,"v":14.3},{"s":"M1","h":1.8,"v":13.7},{"s":"M1","h":2.2,"v":15},{"s":"M1","h":2.7,"v":13.7},{"s":"M1","h":3.4,"v":12.4},{"s":"M1","h":4.1,"v":13.7},{"s":"M1","h":4.8,"v":11.8},{"s":"M1","h":5.5,"v":10.5},{"s":"M1","h":6,"v":9.2},{"s":"M1","h":7,"v":8},{"s":"M1","h":8,"v":6.5},{"s":"M1","h":8.1,"v":10},{"s":"M1","h":9,"v":9},{"s":"M1","h":10,"v":7.5},{"s":"M1","h":11,"v":6.5},{"s":"M1","h":12,"v":5},{"s":"M1","h":13,"v":4},{"s":"M1","h":14,"v":6},{"s":"M1","h":15,"v":5},{"s":"M1","h":16,"v":4},{"s":"M1","h":17,"v":2.5},{"s":"M1","h":18,"v":1.5},{"s":"M1","h":19,"v":0.5},{"s":"M1","h":20,"v":3},{"s":"M1","h":21,"v":2},{"s":"M1","h":22,"v":1},{"s":"M1","h":23,"v":0},{"s":"M1","h":23.75,"v":-0.5},
{"s":"M2","h":0,"v":0},{"s":"M2","h":1,"v":1},{"s":"M2","h":2,"v":3},{"s":"M2","h":3,"v":2},{"s":"M2","h":4,"v":5},{"s":"M2","h":5,"v":8},{"s":"M2","h":5.5,"v":9.8},{"s":"M2","h":6,"v":14},{"s":"M2","h":6.6,"v":17},{"s":"M2","h":7,"v":20},{"s":"M2","h":7.3,"v":21.5},{"s":"M2","h":7.7,"v":25},{"s":"M2","h":8,"v":24.7},{"s":"M2","h":8.5,"v":23.5},{"s":"M2","h":9.25,"v":20.8},{"s":"M2","h":9.5,"v":25.5},{"s":"M2","h":10.2,"v":23.8},{"s":"M2","h":10.6,"v":24.5},{"s":"M2","h":11,"v":22.5},{"s":"M2","h":12,"v":21},{"s":"M2","h":12.5,"v":19.5},{"s":"M2","h":13.5,"v":19.5},{"s":"M2","h":14.5,"v":18},{"s":"M2","h":15.8,"v":18.6},{"s":"M2","h":16.5,"v":17.5},{"s":"M2","h":17.5,"v":16},{"s":"M2","h":18.5,"v":17},{"s":"M2","h":19.5,"v":15},{"s":"M2","h":20.5,"v":14.5},{"s":"M2","h":21.5,"v":15.5},{"s":"M2","h":22.5,"v":16},{"s":"M2","h":23.1,"v":15},{"s":"M2","h":23.75,"v":17},
{"s":"M3","h":0,"v":0},{"s":"M3","h":1,"v":-1},{"s":"M3","h":2,"v":-2},{"s":"M3","h":3,"v":-3},{"s":"M3","h":4,"v":-2},{"s":"M3","h":5,"v":-3},{"s":"M3","h":6,"v":-4},{"s":"M3","h":7,"v":-5},{"s":"M3","h":8,"v":-6},{"s":"M3","h":9,"v":-7},{"s":"M3","h":10,"v":-5},{"s":"M3","h":11,"v":-6},{"s":"M3","h":12,"v":-7},{"s":"M3","h":13,"v":-8},{"s":"M3","h":14,"v":-9},{"s":"M3","h":15,"v":-7},{"s":"M3","h":16,"v":-8},{"s":"M3","h":17,"v":-9},{"s":"M3","h":18,"v":-10.5},{"s":"M3","h":19.6,"v":-13.1},{"s":"M3","h":21.3,"v":-15.7},{"s":"M3","h":22,"v":-16.7},{"s":"M3","h":22.7,"v":-19.3},{"s":"M3","h":23,"v":-17.5},{"s":"M3","h":23.75,"v":-16},
{"s":"M4","h":0,"v":0},{"s":"M4","h":1,"v":-1.2},{"s":"M4","h":2,"v":-1.7},{"s":"M4","h":2.6,"v":-2.2},{"s":"M4","h":2.7,"v":1},{"s":"M4","h":4,"v":-0.3},{"s":"M4","h":5,"v":-0.8},{"s":"M4","h":6,"v":-2.3},{"s":"M4","h":7.3,"v":-3.1},{"s":"M4","h":7.4,"v":3},{"s":"M4","h":8.5,"v":1.7},{"s":"M4","h":9.5,"v":1.2},{"s":"M4","h":10.5,"v":-0.3},{"s":"M4","h":11.4,"v":-1},{"s":"M4","h":11.5,"v":5},{"s":"M4","h":12.5,"v":3.7},{"s":"M4","h":13.5,"v":3.2},{"s":"M4","h":14.6,"v":1.8},{"s":"M4","h":14.7,"v":6},{"s":"M4","h":16,"v":4.7},{"s":"M4","h":17,"v":4.1},{"s":"M4","h":18.3,"v":2.6},{"s":"M4","h":18.4,"v":7},{"s":"M4","h":19.5,"v":5.8},{"s":"M4","h":20.5,"v":5.3},{"s":"M4","h":21.5,"v":4.1},{"s":"M4","h":21.6,"v":9},{"s":"M4","h":23,"v":8.3},{"s":"M4","h":23.75,"v":8},
{"s":"M5","h":0,"v":2},{"s":"M5","h":1,"v":0.7},{"s":"M5","h":2,"v":0.2},{"s":"M5","h":3,"v":-1.3},{"s":"M5","h":4.2,"v":-2.1},{"s":"M5","h":4.3,"v":1},{"s":"M5","h":5.5,"v":-0.3},{"s":"M5","h":6.5,"v":-0.8},{"s":"M5","h":7.5,"v":-2.3},{"s":"M5","h":8.5,"v":-2.8},{"s":"M5","h":9.7,"v":-4.3},{"s":"M5","h":9.8,"v":0},{"s":"M5","h":11,"v":-1.3},{"s":"M5","h":12,"v":-1.8},{"s":"M5","h":13,"v":-3.3},{"s":"M5","h":14,"v":-3.8},{"s":"M5","h":15.1,"v":-5.2},{"s":"M5","h":15.2,"v":-1},{"s":"M5","h":16.5,"v":-2.3},{"s":"M5","h":17.5,"v":-2.8},{"s":"M5","h":18.5,"v":-4.3},{"s":"M5","h":19.5,"v":-4.8},{"s":"M5","h":20.4,"v":-6.1},{"s":"M5","h":20.5,"v":-2},{"s":"M5","h":21.5,"v":-3.3},{"s":"M5","h":22.5,"v":-3.8},{"s":"M5","h":23.2,"v":-5},{"s":"M5","h":23.75,"v":-4},
{"s":"M6","h":0,"v":1},{"s":"M6","h":1,"v":-0.2},{"s":"M6","h":1.7,"v":-0.5},{"s":"M6","h":1.8,"v":3},{"s":"M6","h":3,"v":1.8},{"s":"M6","h":3.8,"v":1.2},{"s":"M6","h":3.9,"v":5},{"s":"M6","h":5,"v":3.7},{"s":"M6","h":6,"v":3.1},{"s":"M6","h":6.9,"v":2.6},{"s":"M6","h":7,"v":6},{"s":"M6","h":8,"v":4.8},{"s":"M6","h":8.8,"v":4.4},{"s":"M6","h":8.9,"v":8},{"s":"M6","h":10,"v":6.7},{"s":"M6","h":11,"v":6.2},{"s":"M6","h":12.2,"v":4.8},{"s":"M6","h":12.3,"v":9},{"s":"M6","h":13.5,"v":7.7},{"s":"M6","h":14.6,"v":7},{"s":"M6","h":14.7,"v":12},{"s":"M6","h":16,"v":10.6},{"s":"M6","h":16.7,"v":10.2},{"s":"M6","h":16.8,"v":14},{"s":"M6","h":18,"v":12.7},{"s":"M6","h":19,"v":12.2},{"s":"M6","h":20,"v":10.8},{"s":"M6","h":21.2,"v":10},{"s":"M6","h":21.3,"v":12.5},{"s":"M6","h":22.5,"v":11.3},{"s":"M6","h":23.75,"v":12},
{"s":"C1","h":0,"v":0},{"s":"C1","h":1,"v":2},{"s":"C1","h":2,"v":0.8},{"s":"C1","h":3,"v":4},{"s":"C1","h":4,"v":6},{"s":"C1","h":5,"v":9},{"s":"C1","h":5.5,"v":12},{"s":"C1","h":6,"v":11.2},{"s":"C1","h":7,"v":10.4},{"s":"C1","h":8,"v":11.4},{"s":"C1","h":9,"v":9.8},{"s":"C1","h":10,"v":8.4},{"s":"C1","h":11,"v":7.1},{"s":"C1","h":11.5,"v":6.8},{"s":"C1","h":11.6,"v":9.2},{"s":"C1","h":13,"v":7.9},{"s":"C1","h":14,"v":7.1},{"s":"C1","h":14.5,"v":6.8},{"s":"C1","h":14.6,"v":10},{"s":"C1","h":16,"v":8.6},{"s":"C1","h":17,"v":8.1},{"s":"C1","h":17.6,"v":7.6},{"s":"C1","h":17.7,"v":11},{"s":"C1","h":19,"v":9.7},{"s":"C1","h":20,"v":9.1},{"s":"C1","h":20.4,"v":8.8},{"s":"C1","h":20.5,"v":13.4},{"s":"C1","h":23.75,"v":13.4},
{"s":"C2","h":0,"v":0},{"s":"C2","h":1,"v":-2},{"s":"C2","h":2,"v":-4},{"s":"C2","h":2.9,"v":-6.4},{"s":"C2","h":4.1,"v":-9.3},{"s":"C2","h":5.5,"v":-11.2},{"s":"C2","h":6.5,"v":-12.8},{"s":"C2","h":7.2,"v":-14.8},{"s":"C2","h":8,"v":-15.9},{"s":"C2","h":8.7,"v":-17},{"s":"C2","h":9.5,"v":-19.3},{"s":"C2","h":9.95,"v":-19},{"s":"C2","h":10.9,"v":-21.9},{"s":"C2","h":12,"v":-25.4},{"s":"C2","h":12.5,"v":-26},{"s":"C2","h":13.1,"v":-27.7},{"s":"C2","h":13.8,"v":-21.9},{"s":"C2","h":14.5,"v":-21},{"s":"C2","h":15.1,"v":-20.3},{"s":"C2","h":15.8,"v":-22.3},{"s":"C2","h":16.3,"v":-25},{"s":"C2","h":17.5,"v":-28.5},{"s":"C2","h":18.4,"v":-31.2},{"s":"C2","h":18.6,"v":-25.1},{"s":"C2","h":19.6,"v":-28.3},{"s":"C2","h":20.2,"v":-30.6},{"s":"C2","h":20.6,"v":-25.5},{"s":"C2","h":21.5,"v":-28},{"s":"C2","h":22.4,"v":-30.3},{"s":"C2","h":23,"v":-28.7},{"s":"C2","h":23.75,"v":-28},
{"s":"C3","h":0,"v":0},{"s":"C3","h":1,"v":-1.3},{"s":"C3","h":2,"v":-1.7},{"s":"C3","h":3,"v":-3.2},{"s":"C3","h":3.7,"v":-3.8},{"s":"C3","h":3.8,"v":0.1},{"s":"C3","h":5,"v":-1.2},{"s":"C3","h":6,"v":-1.7},{"s":"C3","h":7,"v":-3.2},{"s":"C3","h":8,"v":-3.6},{"s":"C3","h":8.8,"v":-5.1},{"s":"C3","h":8.9,"v":1},{"s":"C3","h":10,"v":-0.3},{"s":"C3","h":11,"v":-0.8},{"s":"C3","h":12,"v":-2.3},{"s":"C3","h":13,"v":-2.8},{"s":"C3","h":14,"v":-4.2},{"s":"C3","h":14.8,"v":-5.1},{"s":"C3","h":14.9,"v":0},{"s":"C3","h":16,"v":-1.3},{"s":"C3","h":17,"v":-1.8},{"s":"C3","h":18,"v":-3.2},{"s":"C3","h":19,"v":-3.7},{"s":"C3","h":20.2,"v":-5.2},{"s":"C3","h":20.3,"v":-1},{"s":"C3","h":21.5,"v":-2.3},{"s":"C3","h":22.5,"v":-2.8},{"s":"C3","h":23.75,"v":-5},
{"s":"C4","h":0,"v":-1},{"s":"C4","h":1,"v":-2.3},{"s":"C4","h":2,"v":-2.8},{"s":"C4","h":3,"v":-4.3},{"s":"C4","h":4.3,"v":-5.2},{"s":"C4","h":4.4,"v":-2},{"s":"C4","h":5.5,"v":-3.3},{"s":"C4","h":6.5,"v":-3.8},{"s":"C4","h":7.5,"v":-5.3},{"s":"C4","h":8.5,"v":-5.8},{"s":"C4","h":9.3,"v":-7.1},{"s":"C4","h":9.4,"v":-3},{"s":"C4","h":10.5,"v":-4.3},{"s":"C4","h":11.5,"v":-4.8},{"s":"C4","h":12.5,"v":-6.3},{"s":"C4","h":13.5,"v":-6.8},{"s":"C4","h":14.5,"v":-8.3},{"s":"C4","h":15.5,"v":-8.8},{"s":"C4","h":16.3,"v":-10.1},{"s":"C4","h":16.4,"v":-7},{"s":"C4","h":17.5,"v":-8.3},{"s":"C4","h":18.5,"v":-8.8},{"s":"C4","h":19.5,"v":-10.3},{"s":"C4","h":20.5,"v":-10.8},{"s":"C4","h":21.3,"v":-12.1},{"s":"C4","h":21.4,"v":-10},{"s":"C4","h":22.5,"v":-11.3},{"s":"C4","h":23.75,"v":-13.5},
{"s":"C5","h":0,"v":0},{"s":"C5","h":1,"v":-1.2},{"s":"C5","h":2,"v":-1.7},{"s":"C5","h":2.7,"v":-1},{"s":"C5","h":3.8,"v":-2.3},{"s":"C5","h":4.8,"v":-2.8},{"s":"C5","h":5.8,"v":-4.3},{"s":"C5","h":6.8,"v":-4.8},{"s":"C5","h":7.8,"v":-6.3},{"s":"C5","h":8.5,"v":-5.2},{"s":"C5","h":9.5,"v":-5.6},{"s":"C5","h":10.5,"v":-7.1},{"s":"C5","h":11.5,"v":-7.6},{"s":"C5","h":12.5,"v":-9.1},{"s":"C5","h":13.5,"v":-9.6},{"s":"C5","h":14.5,"v":-11.1},{"s":"C5","h":15.5,"v":-11.6},{"s":"C5","h":16.6,"v":-13.1},{"s":"C5","h":16.7,"v":-10},{"s":"C5","h":18,"v":-11.3},{"s":"C5","h":19,"v":-11.8},{"s":"C5","h":19.4,"v":-15},{"s":"C5","h":23.75,"v":-15},
{"s":"C6","h":0,"v":3},{"s":"C6","h":1,"v":1.8},{"s":"C6","h":2,"v":1.3},{"s":"C6","h":3,"v":-0.2},{"s":"C6","h":4.2,"v":-1},{"s":"C6","h":4.3,"v":2},{"s":"C6","h":5.5,"v":0.7},{"s":"C6","h":6.5,"v":0.2},{"s":"C6","h":7.5,"v":-1.3},{"s":"C6","h":8.5,"v":-1.8},{"s":"C6","h":9.4,"v":-2.2},{"s":"C6","h":9.5,"v":1},{"s":"C6","h":10.5,"v":-0.3},{"s":"C6","h":11.5,"v":-0.8},{"s":"C6","h":12.5,"v":-2.3},{"s":"C6","h":13.6,"v":-3.1},{"s":"C6","h":13.7,"v":2},{"s":"C6","h":15,"v":0.7},{"s":"C6","h":16,"v":0.2},{"s":"C6","h":17,"v":-1.3},{"s":"C6","h":18,"v":-1.8},{"s":"C6","h":19.3,"v":-3.1},{"s":"C6","h":19.4,"v":1},{"s":"C6","h":20.5,"v":-0.3},{"s":"C6","h":21.5,"v":-0.8},{"s":"C6","h":22.4,"v":-2.1},{"s":"C6","h":22.5,"v":0.5},{"s":"C6","h":23.75,"v":-1},
{"s":"C7","h":0,"v":0},{"s":"C7","h":8.5,"v":0},{"s":"C7","h":9.5,"v":-1.3},{"s":"C7","h":10.4,"v":-2},{"s":"C7","h":10.5,"v":2},{"s":"C7","h":11.5,"v":0.7},{"s":"C7","h":12.5,"v":0.2},{"s":"C7","h":13.5,"v":-1.3},{"s":"C7","h":14.5,"v":-1.8},{"s":"C7","h":15.6,"v":-3.2},{"s":"C7","h":15.7,"v":1},{"s":"C7","h":17,"v":-0.3},{"s":"C7","h":18,"v":-0.8},{"s":"C7","h":19,"v":-2.3},{"s":"C7","h":20,"v":-2.8},{"s":"C7","h":21,"v":-4.3},{"s":"C7","h":22,"v":-4.8},{"s":"C7","h":23,"v":-6.3},{"s":"C7","h":23.75,"v":-5},
{"s":"Y1","h":0,"v":1},{"s":"Y1","h":0.5,"v":4},{"s":"Y1","h":1,"v":8},{"s":"Y1","h":1.4,"v":12.4},{"s":"Y1","h":2.2,"v":14.5},{"s":"Y1","h":3,"v":12.5},{"s":"Y1","h":3.5,"v":11},{"s":"Y1","h":4,"v":13},{"s":"Y1","h":5,"v":14},{"s":"Y1","h":6,"v":14.5},{"s":"Y1","h":7,"v":13},{"s":"Y1","h":7.7,"v":16},{"s":"Y1","h":8.5,"v":15},{"s":"Y1","h":9,"v":14},{"s":"Y1","h":10,"v":16},{"s":"Y1","h":11,"v":15.5},{"s":"Y1","h":12,"v":14},{"s":"Y1","h":13,"v":16},{"s":"Y1","h":14,"v":15},{"s":"Y1","h":15,"v":14},{"s":"Y1","h":16,"v":14.5},{"s":"Y1","h":17,"v":13},{"s":"Y1","h":18,"v":14},{"s":"Y1","h":19,"v":15.5},{"s":"Y1","h":20,"v":14},{"s":"Y1","h":21,"v":15},{"s":"Y1","h":22,"v":17},{"s":"Y1","h":23,"v":16},{"s":"Y1","h":23.75,"v":17},
{"s":"Y2","h":0,"v":0},{"s":"Y2","h":1,"v":-1.3},{"s":"Y2","h":2,"v":-1.8},{"s":"Y2","h":3,"v":-3.3},{"s":"Y2","h":4,"v":-3.8},{"s":"Y2","h":5,"v":-5.3},{"s":"Y2","h":6,"v":-5.8},{"s":"Y2","h":7,"v":-7.3},{"s":"Y2","h":7.8,"v":-8.1},{"s":"Y2","h":7.9,"v":-5},{"s":"Y2","h":9,"v":-6.3},{"s":"Y2","h":10,"v":-6.8},{"s":"Y2","h":11,"v":-8.3},{"s":"Y2","h":12,"v":-8.8},{"s":"Y2","h":13,"v":-10.3},{"s":"Y2","h":14,"v":-10.8},{"s":"Y2","h":15,"v":-13},{"s":"Y2","h":15.8,"v":-16.4},{"s":"Y2","h":16.4,"v":-18.3},{"s":"Y2","h":16.8,"v":-12.8},{"s":"Y2","h":18,"v":-13.5},{"s":"Y2","h":18.9,"v":-14},{"s":"Y2","h":19.3,"v":-17},{"s":"Y2","h":20,"v":-17.5},{"s":"Y2","h":21,"v":-18.6},{"s":"Y2","h":21.6,"v":-20.6},{"s":"Y2","h":22,"v":-19},{"s":"Y2","h":22.3,"v":-15.1},{"s":"Y2","h":23,"v":-15},{"s":"Y2","h":23.75,"v":-15.1},
{"s":"Y3","h":0,"v":0},{"s":"Y3","h":1,"v":5},{"s":"Y3","h":1.5,"v":9},{"s":"Y3","h":2,"v":7.7},{"s":"Y3","h":3,"v":7.2},{"s":"Y3","h":3.6,"v":6.8},{"s":"Y3","h":3.7,"v":10},{"s":"Y3","h":5,"v":8.6},{"s":"Y3","h":6,"v":8.1},{"s":"Y3","h":6.8,"v":7.6},{"s":"Y3","h":6.9,"v":10.2},{"s":"Y3","h":8,"v":8.9},{"s":"Y3","h":8.7,"v":8.4},{"s":"Y3","h":8.8,"v":11},{"s":"Y3","h":10,"v":9.7},{"s":"Y3","h":11,"v":9.2},{"s":"Y3","h":11.6,"v":8.8},{"s":"Y3","h":11.7,"v":11.3},{"s":"Y3","h":13,"v":10.1},{"s":"Y3","h":14,"v":9.3},{"s":"Y3","h":14.6,"v":8.8},{"s":"Y3","h":14.7,"v":11.2},{"s":"Y3","h":16,"v":9.8},{"s":"Y3","h":17,"v":9.2},{"s":"Y3","h":17.8,"v":8.8},{"s":"Y3","h":17.9,"v":11.1},{"s":"Y3","h":19,"v":9.8},{"s":"Y3","h":20,"v":9.2},{"s":"Y3","h":20.6,"v":8.7},{"s":"Y3","h":20.7,"v":11},{"s":"Y3","h":22,"v":9.8},{"s":"Y3","h":23,"v":9.3},{"s":"Y3","h":23.75,"v":10},
{"s":"Y4","h":0,"v":1},{"s":"Y4","h":1,"v":-0.3},{"s":"Y4","h":2,"v":-0.8},{"s":"Y4","h":2.6,"v":-1.2},{"s":"Y4","h":2.7,"v":2},{"s":"Y4","h":4,"v":0.7},{"s":"Y4","h":5,"v":0.2},{"s":"Y4","h":6,"v":-1.3},{"s":"Y4","h":7.2,"v":-2.1},{"s":"Y4","h":7.3,"v":2},{"s":"Y4","h":8.3,"v":0.8},{"s":"Y4","h":8.4,"v":4},{"s":"Y4","h":9.5,"v":2.7},{"s":"Y4","h":10.5,"v":2.2},{"s":"Y4","h":11.5,"v":0.7},{"s":"Y4","h":12.5,"v":0.2},{"s":"Y4","h":13.8,"v":-1.2},{"s":"Y4","h":13.9,"v":3},{"s":"Y4","h":15,"v":1.7},{"s":"Y4","h":16.3,"v":1.2},{"s":"Y4","h":16.4,"v":5},{"s":"Y4","h":17.5,"v":3.7},{"s":"Y4","h":18.5,"v":3.2},{"s":"Y4","h":19.8,"v":1.8},{"s":"Y4","h":19.9,"v":5},{"s":"Y4","h":21.2,"v":4.6},{"s":"Y4","h":21.3,"v":7},{"s":"Y4","h":22.5,"v":6.2},{"s":"Y4","h":23.75,"v":6},
{"s":"Y5","h":0,"v":0},{"s":"Y5","h":1,"v":-1.3},{"s":"Y5","h":1.6,"v":-2},{"s":"Y5","h":1.7,"v":2},{"s":"Y5","h":3,"v":0.7},{"s":"Y5","h":4,"v":0.2},{"s":"Y5","h":5,"v":-1.3},{"s":"Y5","h":6,"v":-1.8},{"s":"Y5","h":7.3,"v":-3.2},{"s":"Y5","h":7.4,"v":1},{"s":"Y5","h":8.5,"v":-0.3},{"s":"Y5","h":9.5,"v":-0.8},{"s":"Y5","h":10.5,"v":-2.3},{"s":"Y5","h":11.5,"v":-2.8},{"s":"Y5","h":12.7,"v":-4.2},{"s":"Y5","h":12.8,"v":0},{"s":"Y5","h":14,"v":-1.3},{"s":"Y5","h":15,"v":-1.8},{"s":"Y5","h":16,"v":-3.3},{"s":"Y5","h":17.2,"v":-4.1},{"s":"Y5","h":17.3,"v":1},{"s":"Y5","h":18.5,"v":-0.3},{"s":"Y5","h":19.5,"v":-0.8},{"s":"Y5","h":20.5,"v":-2.3},{"s":"Y5","h":20.6,"v":2},{"s":"Y5","h":22,"v":0.7},{"s":"Y5","h":22.7,"v":0.4},{"s":"Y5","h":22.8,"v":4},{"s":"Y5","h":23.75,"v":3},
{"s":"Y6","h":0,"v":0},{"s":"Y6","h":1,"v":-1},{"s":"Y6","h":2,"v":1},{"s":"Y6","h":3,"v":0},{"s":"Y6","h":4,"v":2},{"s":"Y6","h":5,"v":1},{"s":"Y6","h":6,"v":0},{"s":"Y6","h":7,"v":-1},{"s":"Y6","h":8,"v":1.8},{"s":"Y6","h":23.75,"v":1.8},
{"s":"S1","h":0,"v":0},{"s":"S1","h":1,"v":-1.5},{"s":"S1","h":2,"v":-3.5},{"s":"S1","h":3,"v":-5},{"s":"S1","h":4,"v":-7},{"s":"S1","h":5,"v":-8.5},{"s":"S1","h":6,"v":-10.5},{"s":"S1","h":7.5,"v":-13},{"s":"S1","h":8.7,"v":-15.7},{"s":"S1","h":10,"v":-16},{"s":"S1","h":11,"v":-15},{"s":"S1","h":12,"v":-16.5},{"s":"S1","h":12.9,"v":-18},{"s":"S1","h":13.8,"v":-20.6},{"s":"S1","h":14.5,"v":-22.8},{"s":"S1","h":15.8,"v":-25.4},{"s":"S1","h":16.2,"v":-25.6},{"s":"S1","h":16.4,"v":-21.2},{"s":"S1","h":17,"v":-21},{"s":"S1","h":18,"v":-23.2},{"s":"S1","h":19.1,"v":-26.4},{"s":"S1","h":19.4,"v":-19.3},{"s":"S1","h":20,"v":-20},{"s":"S1","h":21,"v":-23.2},{"s":"S1","h":21.9,"v":-25.4},{"s":"S1","h":22.6,"v":-22.5},{"s":"S1","h":23.75,"v":-23.8},
{"s":"S2","h":0,"v":1},{"s":"S2","h":1,"v":3},{"s":"S2","h":2,"v":1.7},{"s":"S2","h":3,"v":1.2},{"s":"S2","h":4,"v":-0.3},{"s":"S2","h":4.8,"v":-1},{"s":"S2","h":4.9,"v":5},{"s":"S2","h":6,"v":3.7},{"s":"S2","h":7,"v":3.2},{"s":"S2","h":8,"v":1.7},{"s":"S2","h":9,"v":1.2},{"s":"S2","h":10.3,"v":-0.2},{"s":"S2","h":10.4,"v":4},{"s":"S2","h":11.5,"v":2.7},{"s":"S2","h":12.5,"v":2.2},{"s":"S2","h":13.5,"v":0.7},{"s":"S2","h":14.5,"v":0.2},{"s":"S2","h":15.6,"v":-1.1},{"s":"S2","h":15.7,"v":5},{"s":"S2","h":17,"v":3.7},{"s":"S2","h":18,"v":3.2},{"s":"S2","h":18.8,"v":2.1},{"s":"S2","h":18.9,"v":8},{"s":"S2","h":20,"v":6.7},{"s":"S2","h":21,"v":6.2},{"s":"S2","h":22.2,"v":4.8},{"s":"S2","h":22.3,"v":8},{"s":"S2","h":23.75,"v":7},
{"s":"S3","h":0,"v":0},{"s":"S3","h":1,"v":-1.3},{"s":"S3","h":2,"v":-1.8},{"s":"S3","h":3,"v":-3.3},{"s":"S3","h":4,"v":-3.8},{"s":"S3","h":5,"v":-5.3},{"s":"S3","h":6.3,"v":-6.1},{"s":"S3","h":6.4,"v":-3},{"s":"S3","h":7.5,"v":-4.3},{"s":"S3","h":8.5,"v":-4.8},{"s":"S3","h":9.5,"v":-6.3},{"s":"S3","h":10.5,"v":-6.8},{"s":"S3","h":11.5,"v":-8.3},{"s":"S3","h":12.4,"v":-9.1},{"s":"S3","h":12.5,"v":-5},{"s":"S3","h":13.5,"v":-6.3},{"s":"S3","h":14.5,"v":-6.8},{"s":"S3","h":15.5,"v":-8.3},{"s":"S3","h":16.5,"v":-8.8},{"s":"S3","h":17.5,"v":-10.3},{"s":"S3","h":18.5,"v":-10.8},{"s":"S3","h":19.2,"v":-12},{"s":"S3","h":19.3,"v":-9},{"s":"S3","h":20.5,"v":-10.3},{"s":"S3","h":21.5,"v":-10.8},{"s":"S3","h":22.5,"v":-12.8},{"s":"S3","h":23.75,"v":-14.6},
{"s":"S4","h":0,"v":0},{"s":"S4","h":1,"v":-1.3},{"s":"S4","h":2,"v":-1.8},{"s":"S4","h":3,"v":-3.3},{"s":"S4","h":4,"v":-3.8},{"s":"S4","h":5,"v":-5.3},{"s":"S4","h":6,"v":-5.8},{"s":"S4","h":7,"v":-7.3},{"s":"S4","h":8,"v":-7.8},{"s":"S4","h":9,"v":-9.3},{"s":"S4","h":9.9,"v":-10.1},{"s":"S4","h":10,"v":-7},{"s":"S4","h":11,"v":-8.3},{"s":"S4","h":12,"v":-8.8},{"s":"S4","h":13,"v":-10.3},{"s":"S4","h":14,"v":-10.8},{"s":"S4","h":15,"v":-12.2},{"s":"S4","h":15.6,"v":-12.6},{"s":"S4","h":15.7,"v":-11},{"s":"S4","h":17,"v":-12.3},{"s":"S4","h":18,"v":-12.8},{"s":"S4","h":19,"v":-14.2},{"s":"S4","h":19.2,"v":-11},{"s":"S4","h":20.2,"v":-12.3},{"s":"S4","h":21,"v":-13.8},{"s":"S4","h":22,"v":-16.1},{"s":"S4","h":23,"v":-17.8},{"s":"S4","h":23.75,"v":-17.5},
{"s":"S5","h":0,"v":0},{"s":"S5","h":1,"v":-1.3},{"s":"S5","h":2,"v":-1.8},{"s":"S5","h":3.2,"v":-3.1},{"s":"S5","h":3.3,"v":1},{"s":"S5","h":4.5,"v":-0.3},{"s":"S5","h":5.5,"v":-0.8},{"s":"S5","h":6.5,"v":-2.3},{"s":"S5","h":7.5,"v":-2.8},{"s":"S5","h":8.6,"v":-4.2},{"s":"S5","h":8.7,"v":-1},{"s":"S5","h":10,"v":-2.3},{"s":"S5","h":11,"v":-2.8},{"s":"S5","h":12,"v":-4.3},{"s":"S5","h":13,"v":-4.8},{"s":"S5","h":14.3,"v":-6.2},{"s":"S5","h":14.4,"v":-2},{"s":"S5","h":15.5,"v":-3.3},{"s":"S5","h":16.5,"v":-3.8},{"s":"S5","h":17.5,"v":-5.3},{"s":"S5","h":18.5,"v":-5.8},{"s":"S5","h":19.4,"v":-7.1},{"s":"S5","h":19.5,"v":-3},{"s":"S5","h":20.5,"v":-4.3},{"s":"S5","h":21.5,"v":-4.8},{"s":"S5","h":22.5,"v":-6.3},{"s":"S5","h":23.2,"v":-6.9},{"s":"S5","h":23.75,"v":-5.5},
{"s":"S6","h":0,"v":2},{"s":"S6","h":1,"v":0.7},{"s":"S6","h":1.5,"v":0.4},{"s":"S6","h":1.6,"v":4},{"s":"S6","h":3,"v":2.7},{"s":"S6","h":3.7,"v":2.1},{"s":"S6","h":3.8,"v":6},{"s":"S6","h":5,"v":4.7},{"s":"S6","h":6,"v":4.2},{"s":"S6","h":7,"v":2.8},{"s":"S6","h":7.6,"v":2.2},{"s":"S6","h":7.7,"v":7},{"s":"S6","h":9,"v":5.7},{"s":"S6","h":10,"v":5.2},{"s":"S6","h":10.6,"v":4.6},{"s":"S6","h":10.7,"v":9},{"s":"S6","h":12,"v":7.7},{"s":"S6","h":13,"v":7.2},{"s":"S6","h":13.6,"v":6.8},{"s":"S6","h":13.7,"v":11},{"s":"S6","h":14.8,"v":10.6},{"s":"S6","h":14.9,"v":13},{"s":"S6","h":16,"v":11.7},{"s":"S6","h":17,"v":11.2},{"s":"S6","h":18,"v":9.8},{"s":"S6","h":19,"v":9.3},{"s":"S6","h":20,"v":7.8},{"s":"S6","h":21,"v":7.3},{"s":"S6","h":22,"v":5.8},{"s":"S6","h":23,"v":5.3},{"s":"S6","h":23.75,"v":5.5},
{"s":"S7","h":0,"v":0.5},{"s":"S7","h":1,"v":-1.1},{"s":"S7","h":2,"v":-1.8},{"s":"S7","h":3,"v":-3.5},{"s":"S7","h":3.9,"v":-4.3},{"s":"S7","h":4,"v":0.5},{"s":"S7","h":5,"v":-1},{"s":"S7","h":6,"v":-1.6},{"s":"S7","h":7,"v":-3.3},{"s":"S7","h":8,"v":-4},{"s":"S7","h":9,"v":-5.7},{"s":"S7","h":10,"v":-6.4},{"s":"S7","h":11,"v":-8.1},{"s":"S7","h":12,"v":-8.8},{"s":"S7","h":12.9,"v":-10.2},{"s":"S7","h":13,"v":-6},{"s":"S7","h":14,"v":-7.5},{"s":"S7","h":15,"v":-8.1},{"s":"S7","h":16,"v":-9.8},{"s":"S7","h":17,"v":-10.5},{"s":"S7","h":18,"v":-12.2},{"s":"S7","h":18.5,"v":-12.6},{"s":"S7","h":18.6,"v":-8},{"s":"S7","h":19.5,"v":-9.3},{"s":"S7","h":20.5,"v":-9.8},{"s":"S7","h":21.5,"v":-11.4},{"s":"S7","h":22.5,"v":-12},{"s":"S7","h":23.75,"v":-13.8},
{"s":"K1","h":0,"v":0},{"s":"K1","h":1,"v":-1},{"s":"K1","h":2,"v":-2},{"s":"K1","h":3,"v":-3},{"s":"K1","h":4,"v":-2},{"s":"K1","h":5,"v":-4},{"s":"K1","h":6,"v":-3},{"s":"K1","h":7,"v":-5},{"s":"K1","h":8,"v":-4},{"s":"K1","h":9,"v":-2},{"s":"K1","h":10,"v":-3},{"s":"K1","h":11,"v":-4},{"s":"K1","h":12,"v":-1},{"s":"K1","h":13,"v":-2},{"s":"K1","h":14,"v":1},{"s":"K1","h":15,"v":3},{"s":"K1","h":16,"v":5},{"s":"K1","h":17,"v":7.5},{"s":"K1","h":18,"v":7},{"s":"K1","h":19,"v":5.5},{"s":"K1","h":20,"v":5},{"s":"K1","h":21,"v":8},{"s":"K1","h":21.3,"v":11.5},{"s":"K1","h":21.5,"v":17.2},{"s":"K1","h":21.8,"v":17.6},{"s":"K1","h":22.4,"v":16.3},{"s":"K1","h":22.8,"v":14.3},{"s":"K1","h":23.2,"v":14},{"s":"K1","h":23.45,"v":16.5},{"s":"K1","h":23.75,"v":16}
],
"frame": [{"h": 0, "v": 0}]
},
"layer": [
  {
    "data": {"name": "d"},
    "mark": {"type": "line", "strokeWidth": 1, "clip": true, "interpolate": "linear"},
    "encoding": {
      "x": {"field": "h", "type": "quantitative", "scale": {"domain": [0, 23.75], "nice": false, "zero": false},
            "axis": {"orient": "bottom", "values": [0,1,2,3,4,5,6,7,8,9,10,11,12,13,14,15,16,17,18,19,20,21,22,23], "title": "Hour of Day", "titleY": 27, "titleBaseline": "middle", "labelFlush": false, "format": "d"}},
      "y": {"field": "v", "type": "quantitative", "scale": {"domain": [-40, 40], "nice": false, "zero": false},
            "axis": {"orient": "left", "values": [-40,-30,-20,-10,0,10,20,30,40], "title": "Cumulative (Z*Z)-1", "titleX": -40, "titleY": 223, "titleAngle": 270, "titleAlign": "center", "titleBaseline": "middle", "labelFlush": false, "format": "d"}},
      "color": {"field": "s", "type": "nominal", "legend": null,
        "scale": {
          "domain": ["R1","R2","R3","R4","R5","R6","R7","R8","R9","DR1","DR2","DR3","DR4","DR5","DR6","G1","G2","G3","G4","G5","G6","G7","B1","B2","B3","B4","B5","B6","B7","B8","B9","M1","M2","M3","M4","M5","M6","C1","C2","C3","C4","C5","C6","C7","Y1","Y2","Y3","Y4","Y5","Y6","S1","S2","S3","S4","S5","S6","S7","K1"],
          "range": ["#ff0000","#ff0000","#ff0000","#ff0000","#ff0000","#ff0000","#ff0000","#ff0000","#ff0000","#a00000","#a00000","#a00000","#a00000","#a00000","#a00000","#00a000","#00a000","#00a000","#00a000","#00a000","#00a000","#00a000","#0000ff","#0000ff","#0000ff","#0000ff","#0000ff","#0000ff","#0000ff","#0000ff","#0000ff","#ff50ff","#ff50ff","#ff50ff","#ff50ff","#ff50ff","#ff50ff","#00ffff","#00ffff","#00ffff","#00ffff","#00ffff","#00ffff","#00ffff","#ffff00","#ffff00","#ffff00","#ffff00","#ffff00","#ffff00","#6060ff","#6060ff","#6060ff","#6060ff","#6060ff","#6060ff","#6060ff","#000000"]
        }}
    }
  },
  {
    "data": {"name": "frame"},
    "mark": {"type": "point", "opacity": 0},
    "encoding": {
      "x": {"field": "h", "type": "quantitative", "axis": {"orient": "top", "values": [0,1,2,3,4,5,6,7,8,9,10,11,12,13,14,15,16,17,18,19,20,21,22,23], "labels": false, "title": null}},
      "y": {"field": "v", "type": "quantitative", "axis": {"orient": "right", "values": [-40,-30,-20,-10,0,10,20,30,40], "labels": false, "title": null}}
    }
  }
],
"resolve": {"axis": {"x": "independent", "y": "independent"}}
}
